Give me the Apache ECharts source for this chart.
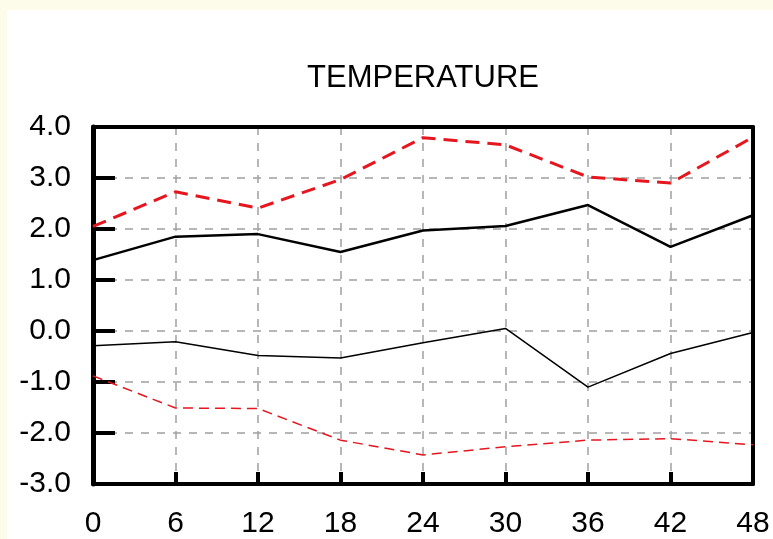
<!DOCTYPE html>
<html>
<head>
<meta charset="utf-8">
<script src="https://cdn.jsdelivr.net/npm/echarts@6/dist/echarts.min.js"></script>
<style>
html,body{margin:0;padding:0;background:#fdfbe9;}
#bg{position:absolute;left:7px;top:10px;width:766px;height:529px;background:#ffffff;}
#c{position:absolute;left:0;top:0;width:773px;height:539px;}
</style>
</head>
<body>
<div id="bg"></div>
<div id="c"></div>
<script>
var hours = [0, 6, 12, 18, 24, 30, 36, 42, 48];
var upperRed = [2.05, 2.73, 2.41, 2.97, 3.79, 3.65, 3.02, 2.90, 3.80];
var upperBlack = [1.39, 1.85, 1.90, 1.55, 1.97, 2.06, 2.47, 1.65, 2.27];
var lowerBlack = [-0.29, -0.21, -0.48, -0.53, -0.23, 0.05, -1.10, -0.44, -0.03];
var lowerRed = [-0.88, -1.51, -1.52, -2.14, -2.43, -2.27, -2.14, -2.11, -2.23];
var yTicks = ['-3.0', '-2.0', '-1.0', '0.0', '1.0', '2.0', '3.0', '4.0'];
var xTicks = ['0', '6', '12', '18', '24', '30', '36', '42', '48'];

function pairs(vals) { return hours.map(function (h, i) { return [h, vals[i]]; }); }

var chart = echarts.init(document.getElementById('c'), null, {renderer: 'canvas'});
var FONT = '"Liberation Sans", Arial, Helvetica, sans-serif';
var borderLine = {show: true, onZero: false, lineStyle: {color: '#000', width: 4}};
chart.setOption({
  backgroundColor: 'transparent',
  animation: false,
  title: {
    text: 'TEMPERATURE',
    left: 423, textAlign: 'center',
    top: 63, padding: 0,
    textStyle: {fontFamily: FONT, fontSize: 31, fontWeight: 'normal', color: '#000'}
  },
  grid: {left: 93, right: 20, top: 127, bottom: 54},
  xAxis: [{
    type: 'value', min: 0, max: 48, interval: 6, position: 'bottom',
    axisLine: borderLine,
    axisTick: {show: true, inside: true, length: 12, lineStyle: {color: '#000', width: 4}},
    axisLabel: {
      margin: 25, color: '#000', fontFamily: FONT, fontSize: 30,
      formatter: function (v) { var i = hours.indexOf(v); return i >= 0 ? xTicks[i] : ''; }
    },
    splitLine: {show: true, lineStyle: {color: '#a0a0a0', width: 1.5, type: [8, 8]}}
  }, {
    type: 'value', min: 0, max: 48, interval: 6, position: 'top',
    axisLine: borderLine, axisTick: {show: false}, axisLabel: {show: false}, splitLine: {show: false}
  }],
  yAxis: [{
    type: 'value', min: -3, max: 4, interval: 1, position: 'left',
    axisLine: {show: true, onZero: false, lineStyle: {color: '#000', width: 5}},
    axisTick: {show: true, inside: true, length: 22, lineStyle: {color: '#000', width: 4}},
    axisLabel: {
      margin: 22, color: '#000', fontFamily: FONT, fontSize: 30,
      formatter: function (v) { return yTicks[Math.round(v) + 3]; }
    },
    splitLine: {show: true, lineStyle: {color: '#a0a0a0', width: 1.5, type: [8, 8]}}
  }, {
    type: 'value', min: -3, max: 4, interval: 1, position: 'right',
    axisLine: borderLine, axisTick: {show: false}, axisLabel: {show: false}, splitLine: {show: false}
  }],
  series: [
    {name: 'Upper (red)', type: 'line', data: pairs(upperRed), showSymbol: false, clip: false,
     lineStyle: {color: '#e6161f', width: 3, type: [14, 8]}},
    {name: 'Upper (black)', type: 'line', data: pairs(upperBlack), showSymbol: false, clip: false,
     lineStyle: {color: '#000', width: 2.5}},
    {name: 'Lower (black)', type: 'line', data: pairs(lowerBlack), showSymbol: false, clip: false,
     lineStyle: {color: '#000', width: 1.5}},
    {name: 'Lower (red)', type: 'line', data: pairs(lowerRed), showSymbol: false, clip: false,
     lineStyle: {color: '#e6161f', width: 1.5, type: [10, 6]}}
  ]
});
</script>
</body>
</html>
